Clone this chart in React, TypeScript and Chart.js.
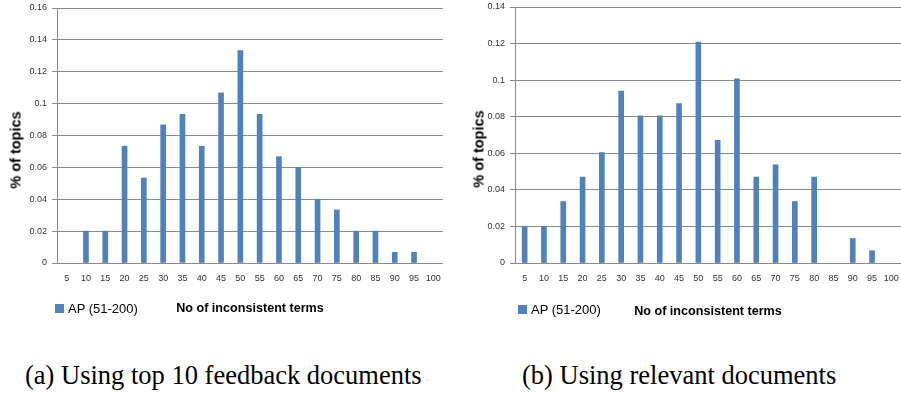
import React, { useEffect, useRef } from "react";
import { Chart, registerables } from "chart.js";

Chart.register(...registerables);

const categories = ["5", "10", "15", "20", "25", "30", "35", "40", "45", "50", "55", "60", "65", "70", "75", "80", "85", "90", "95", "100"];

const top10Values = [0, 0.02, 0.02, 0.0733, 0.0533, 0.0867, 0.0933, 0.0733, 0.1067, 0.1333, 0.0933, 0.0667, 0.06, 0.04, 0.0333, 0.02, 0.02, 0.0067, 0.0067, 0];
const relevantValues = [0.0201, 0.0201, 0.0336, 0.047, 0.0604, 0.094, 0.0805, 0.0805, 0.0872, 0.1208, 0.0671, 0.1007, 0.047, 0.0537, 0.0336, 0.047, 0, 0.0134, 0.0067, 0];

const top10YTicks = [0, 0.02, 0.04, 0.06, 0.08, 0.1, 0.12, 0.14, 0.16];
const relevantYTicks = [0, 0.02, 0.04, 0.06, 0.08, 0.1, 0.12, 0.14];

const seriesLabel = "AP (51-200)";
const xTitle = "No of inconsistent terms";
const yTitle = "% of topics";
const captionA = "(a) Using top 10 feedback documents";
const captionB = "(b) Using relevant documents";

const BAR = "#4F81BD";
const GRID = "#8a8a8a";
const SANS = "'Liberation Sans', Arial, sans-serif";

type PanelProps = {
  values: number[];
  yTicks: number[];
  yWidth: number;
  top: number;
  titlePadBottom: number;
  width: number;
  height: number;
};

function Panel({ values, yTicks, yWidth, top, titlePadBottom, width, height }: PanelProps) {
  const ref = useRef<HTMLCanvasElement | null>(null);
  useEffect(() => {
    if (!ref.current) return;
    const max = yTicks[yTicks.length - 1];
    const chart = new Chart(ref.current, {
      type: "bar",
      data: {
        labels: categories,
        datasets: [
          {
            label: seriesLabel,
            data: values,
            backgroundColor: (c: any) => (c.raw === 0 ? "rgba(0,0,0,0)" : BAR),
            borderWidth: 0,
            barThickness: 5,
          },
        ],
      },
      options: {
        animation: false,
        responsive: false,
        layout: { padding: { top: top, right: 0, left: 0, bottom: 0 } },
        plugins: { legend: { display: false }, tooltip: { enabled: false } },
        scales: {
          x: {
            grid: { display: false, drawTicks: false },
            border: { display: true, color: GRID, width: 1 },
            ticks: {
              color: "#333",
              font: { family: SANS, size: 9 },
              padding: 10,
              maxRotation: 0,
              autoSkip: false,
            },
            title: {
              display: true,
              text: xTitle,
              color: "#000",
              font: { family: SANS, size: 12.6, weight: "bold" },
              padding: { top: 0, bottom: titlePadBottom },
            },
            afterFit: (s: any) => {
              s.height = 67;
              s.paddingLeft = 0;
              s.paddingRight = 0;
            },
          },
          y: {
            min: 0,
            max: max,
            afterBuildTicks: (s: any) => {
              s.ticks = yTicks.map((v) => ({ value: v }));
            },
            grid: { color: GRID, lineWidth: 1, drawTicks: true, tickLength: 5 },
            border: { display: true, color: GRID, width: 1 },
            ticks: {
              color: "#333",
              font: { family: SANS, size: 9 },
              padding: 5,
              callback: (v: any) => String(Number(v)),
            },
            title: { display: false },
            afterFit: (s: any) => {
              s.width = yWidth;
              s.paddingTop = 0;
              s.paddingBottom = 0;
            },
          },
        },
      },
    });
    return () => chart.destroy();
  }, []);
  return <canvas ref={ref} width={width} height={height} style={{ display: "block" }} />;
}

function Legend({ left, top }: { left: number; top: number }) {
  return (
    <div
      style={{
        position: "absolute",
        left,
        top,
        display: "flex",
        alignItems: "center",
        fontFamily: SANS,
        fontSize: 13,
        lineHeight: "13px",
        color: "#000",
      }}
    >
      <span style={{ display: "inline-block", width: 9, height: 9, background: BAR, marginRight: 4 }} />
      <span>{seriesLabel}</span>
    </div>
  );
}

function YTitle({ cx, cy }: { cx: number; cy: number }) {
  return (
    <div
      style={{
        position: "absolute",
        left: cx,
        top: cy,
        transform: "translate(-50%, -50%) rotate(-90deg)",
        fontFamily: SANS,
        fontWeight: "bold",
        fontSize: 14.5,
        lineHeight: "15px",
        whiteSpace: "nowrap",
        color: "#000",
      }}
    >
      {yTitle}
    </div>
  );
}

const captionStyle: React.CSSProperties = {
  position: "absolute",
  fontFamily: "'Liberation Serif', 'Times New Roman', serif",
  fontSize: 26.5,
  lineHeight: "26.5px",
  color: "#000",
  whiteSpace: "nowrap",
};

export default function App() {
  return (
    <div style={{ position: "absolute", left: 0, top: 0, width: 901, height: 394, background: "#fff", overflow: "hidden" }}>
      <div style={{ position: "absolute", left: 0, top: 0, width: 450 }}>
        <Panel values={top10Values} yTicks={top10YTicks} yWidth={57} top={8} titlePadBottom={13.5} width={443} height={330} />
      </div>
      <div style={{ position: "absolute", left: 450, top: 0 }}>
        <Panel values={relevantValues} yTicks={relevantYTicks} yWidth={65} top={7} titlePadBottom={10.5} width={451} height={330} />
      </div>
      <YTitle cx={16} cy={150} />
      <YTitle cx={479} cy={149} />
      <Legend left={55} top={302} />
      <Legend left={518} top={303} />
      <div style={{ ...captionStyle, left: 25, top: 362 }}>{captionA}</div>
      <div style={{ ...captionStyle, left: 522, top: 362 }}>{captionB}</div>
    </div>
  );
}
